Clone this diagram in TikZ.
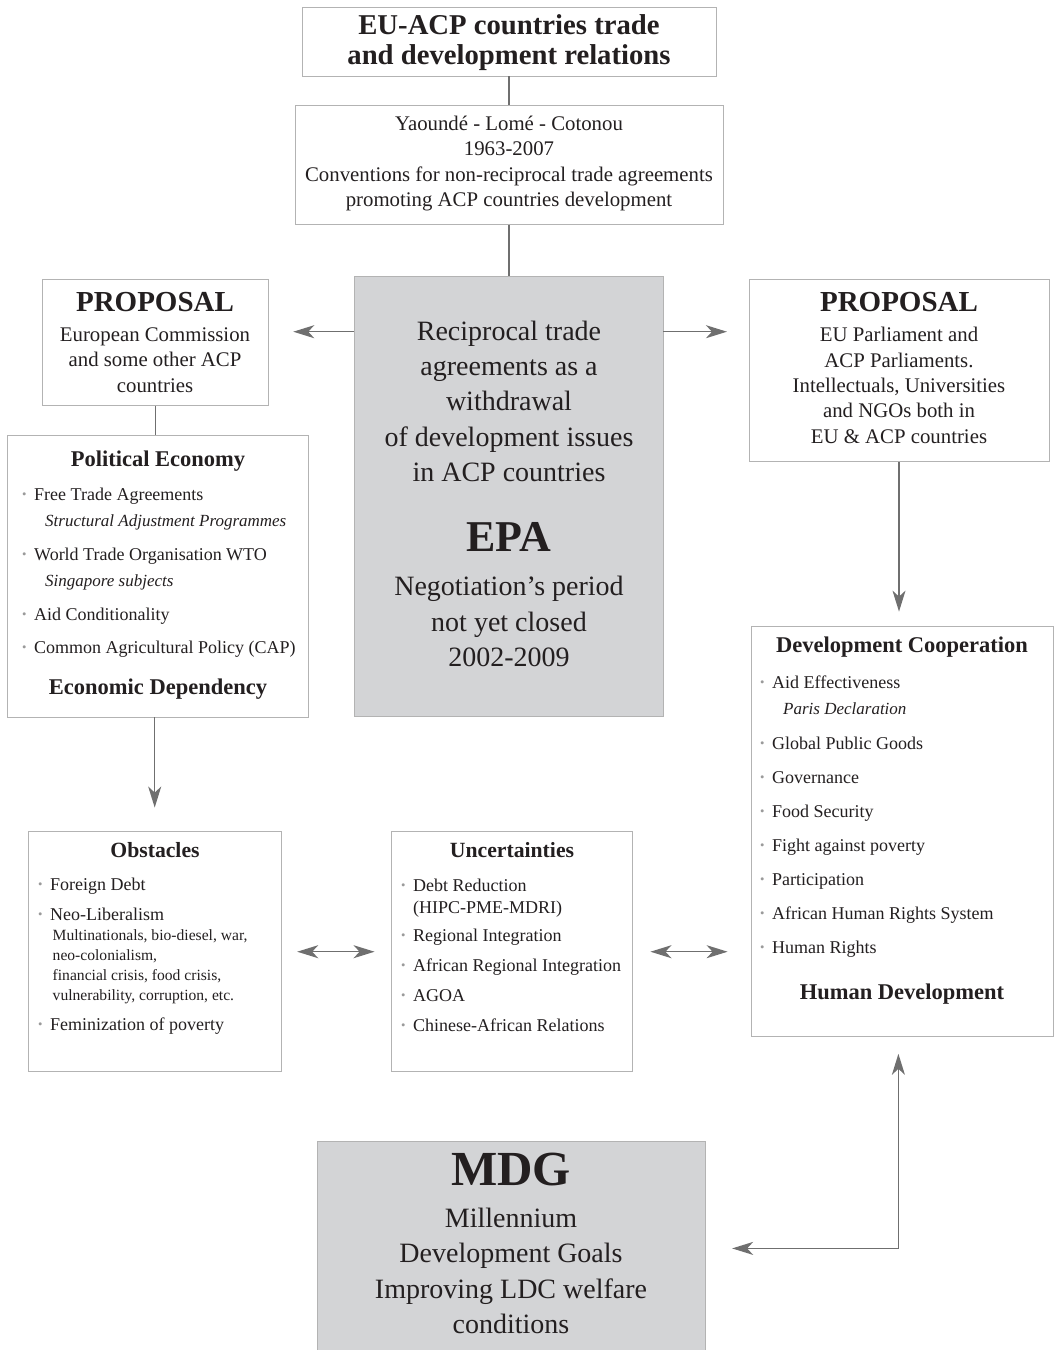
\documentclass[tikz,border=0pt]{standalone}
\usepackage{fontspec}
\setmainfont{Liberation Serif}
\usetikzlibrary{arrows.meta}

\definecolor{ink}{HTML}{231F20}
\definecolor{boxgray}{HTML}{B3B3B3}
\definecolor{epagray}{HTML}{D3D4D6}
\definecolor{linegray}{HTML}{6F6F6F}
\definecolor{dotgray}{HTML}{9A9A9A}

\newcommand{\fTitle}{\fontsize{28.7}{30}\selectfont\bfseries}
\newcommand{\fProp}{\fontsize{29}{30}\selectfont\bfseries}
\newcommand{\fHead}{\fontsize{22.5}{26}\selectfont\bfseries}
\newcommand{\fSmallHead}{\fontsize{21.7}{26}\selectfont\bfseries}
\newcommand{\fBody}{\fontsize{20.8}{25.4}\selectfont}
\newcommand{\fList}{\fontsize{18}{26}\selectfont}
\newcommand{\fItal}{\fontsize{17}{26}\selectfont\itshape}
\newcommand{\fSub}{\fontsize{15.6}{20}\selectfont}
\newcommand{\fEpa}{\fontsize{28}{35.4}\selectfont}
\newcommand{\fHuge}{\fontsize{44}{46}\selectfont\bfseries}
\newcommand{\bul}{\makebox[12pt][l]{\textcolor{dotgray}{\raisebox{1.1pt}{\scalebox{0.7}{\textbullet}}}}}

\tikzset{
  box/.style={draw=boxgray, line width=0.9pt, fill=white, inner sep=0pt},
  shadebox/.style={box, fill=epagray},
  txt/.style={inner sep=0pt, align=center, text=ink, anchor=base},
  lst/.style={inner sep=0pt, align=left, text=ink, anchor=base west, font=\fList},
  link/.style={draw=linegray, line width=1.4pt},
  arr/.style={link, -{Stealth[length=21pt, width=13pt, inset=6pt]}},
  dbl/.style={link, {Stealth[length=21pt, width=13pt, inset=6pt]}-{Stealth[length=21pt, width=13pt, inset=6pt]}}
}

\begin{document}
\begin{tikzpicture}[x=1pt, y=-1pt]
    \useasboundingbox (0,0) rectangle (1056,1350);

    % boxes
    \node[box, minimum width=414, minimum height=69] (title) at (509,41.5) {};
    \node[box, minimum width=428, minimum height=119] (yaounde) at (509,164.7) {};
    \node[shadebox, minimum width=309, minimum height=440] (epa) at (508.5,496) {};
    \node[box, minimum width=225.6, minimum height=125.7] (propL) at (155.5,342.2) {};
    \node[box, minimum width=300, minimum height=182.4] (propR) at (899,370.5) {};
    \node[box, minimum width=301, minimum height=282] (polecon) at (157.8,576) {};
    \node[box, minimum width=301.3, minimum height=409.3] (devcoop) at (902.4,831.4) {};
    \node[box, minimum width=252.7, minimum height=240] (obst) at (154.7,951.7) {};
    \node[box, minimum width=240.6, minimum height=240] (uncert) at (512,951.7) {};
    \node[shadebox, minimum width=388, minimum height=213.4] (mdg) at (511,1248.4) {};

    % texts (multi-line nodes sit on their last baseline)
    \node[txt, font=\fTitle] (titleTxt) at (509,64) {EU-ACP countries trade\\and development relations};
    \node[txt, font=\fBody] (yaoundeTxt) at (509,206.5) {Yaoundé - Lomé - Cotonou\\1963-2007\\Conventions for non-reciprocal trade agreements\\promoting ACP countries development};

    \node[txt, font=\fEpa] (epaTxt) at (509,481.6) {Reciprocal trade\\agreements as a\\withdrawal\\of development issues\\in ACP countries};
    \node[txt, font=\fHuge] (epaName) at (509,551.7) {EPA};
    \node[txt, font=\fEpa] (epaDates) at (509,666.5) {Negotiation’s period\\not yet closed\\2002-2009};

    \node[txt, font=\fProp] (propLHead) at (155,311) {PROPOSAL};
    \node[txt, font=\fBody] (propLTxt) at (155,392) {European Commission\\and some other ACP\\countries};
    \node[txt, font=\fProp] (propRHead) at (899,311) {PROPOSAL};
    \node[txt, font=\fBody] (propRTxt) at (899,443.3) {EU Parliament and\\ACP Parliaments.\\Intellectuals, Universities\\and NGOs both in\\EU \& ACP countries};

    \node[txt, font=\fHead] (peHead) at (158,466) {Political Economy};
    \node[lst] (peList) at (22,653) {\bul Free Trade Agreements\\
        \hspace*{23pt}{\fItal Structural Adjustment Programmes}\\[8pt]
        \bul World Trade Organisation WTO\\
        \hspace*{23pt}{\fItal Singapore subjects}\\[8pt]
        \bul Aid Conditionality\\[7pt]
        \bul Common Agricultural Policy (CAP)};
    \node[txt, font=\fHead] (peFoot) at (158,694) {Economic Dependency};

    \node[txt, font=\fSmallHead] (obHead) at (155,857) {Obstacles};
    \node[lst] (obList) at (38,1030) {\bul Foreign Debt\\[4pt]
        \bul Neo-Liberalism\\[-6pt]
        \hspace*{14.5pt}{\fSub Multinationals, bio-diesel, war,}\\[-6pt]
        \hspace*{14.5pt}{\fSub neo-colonialism,}\\[-6pt]
        \hspace*{14.5pt}{\fSub financial crisis, food crisis,}\\[-6pt]
        \hspace*{14.5pt}{\fSub vulnerability, corruption, etc.}\\[4pt]
        \bul Feminization of poverty};

    \node[txt, font=\fSmallHead] (unHead) at (512,857) {Uncertainties};
    \node[lst] (unList) at (401,1031) {\bul Debt Reduction\\[-4pt]
        \hspace*{12pt}(HIPC-PME-MDRI)\\[2pt]
        \bul Regional Integration\\[4pt]
        \bul African Regional Integration\\[4pt]
        \bul AGOA\\[4pt]
        \bul Chinese-African Relations};

    \node[txt, font=\fHead] (dcHead) at (902,652) {Development Cooperation};
    \node[lst] (dcList) at (760,953) {\bul Aid Effectiveness\\
        \hspace*{23pt}{\fItal Paris Declaration}\\[9pt]
        \bul Global Public Goods\\[8pt]
        \bul Governance\\[8pt]
        \bul Food Security\\[8pt]
        \bul Fight against poverty\\[8pt]
        \bul Participation\\[8pt]
        \bul African Human Rights System\\[8pt]
        \bul Human Rights};
    \node[txt, font=\fHead] (dcFoot) at (902,999) {Human Development};

    \node[txt, font=\fontsize{49}{50}\selectfont\bfseries] (mdgName) at (511,1185) {MDG};
    \node[txt, font=\fEpa] (mdgTxt) at (511,1333.5) {Millennium\\Development Goals\\Improving LDC welfare\\conditions};

    % connectors
    \coordinate (armY) at (0,331.7);
    \draw[link] (title) -- (yaounde);
    \draw[link] (yaounde.south) -- (yaounde.south |- epa.north);
    \draw[link] (propL.south) -- (propL.south |- polecon.north);
    \draw[arr, shorten >=24.5pt] (epa.west |- armY) -- (propL.east |- armY);
    \draw[arr, shorten >=21.6pt] (epa.east |- armY) -- (propR.west |- armY);
    \draw[arr, shorten >=23.7pt] (obst.north |- polecon.south) -- (obst.north);
    \draw[arr, shorten >=14.7pt] (propR.south) -- (propR.south |- devcoop.north);
    \draw[dbl, shorten <=15.7pt, shorten >=16.7pt] (obst) -- (uncert);
    \draw[dbl, shorten <=17.7pt, shorten >=23.7pt] (uncert.east) -- (uncert.east -| devcoop.west);
    \draw[dbl, shorten <=26.7pt, shorten >=17.3pt] (mdg.east) -| ([xshift=-4pt]devcoop.south);
\end{tikzpicture}
\end{document}
